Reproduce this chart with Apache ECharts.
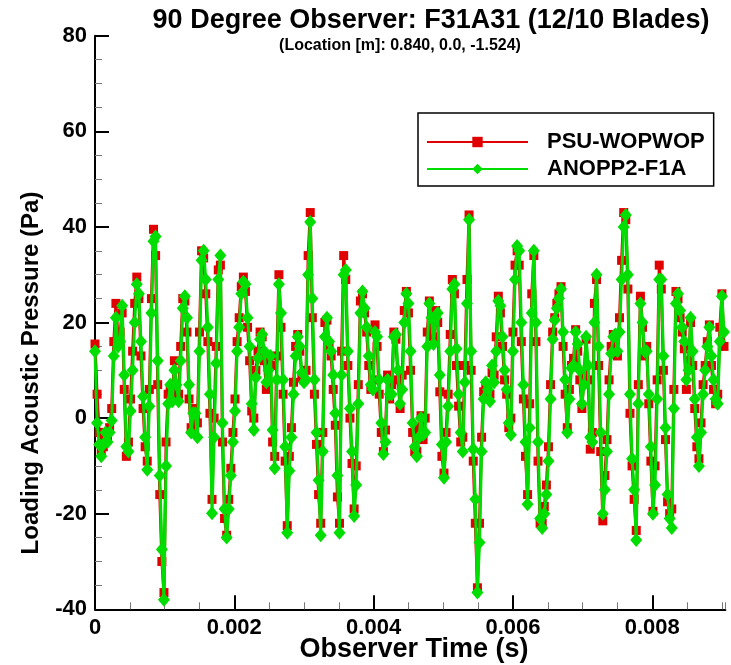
<!DOCTYPE html>
<html><head><meta charset="utf-8">
<script src="https://cdn.jsdelivr.net/npm/echarts@6/dist/echarts.min.js"></script>
<style>html,body{margin:0;padding:0;background:#fff}#c{width:731px;height:665px}</style>
</head><body><div id="c"></div>
<script>
// sampling step of the observer time history (s)
const dt = 3e-5;
const xTicks = [0, 0.002, 0.004, 0.006, 0.008];
const xMax = 0.00905;
const yMin = -40, yMax = 80, yStep = 20;
const seriesNames = ['PSU-WOPWOP', 'ANOPP2-F1A'];

const psuWopwop = [
15.5,5,-3,-7,-6,-4,-4,-2,2,16,24,17,18,22,6,-8,-5,4,14,24,
29.5,25,13,2,-6,-9,6,25,39.5,34,7,-16,-30,-36.5,-5,5,6,4.5,12,5,
5,15,25,24.5,18,4,-2,2,0,-1,18,35,33.5,26,16,1,-17,0,15,31,
32,-5,-21,-24.5,-17,-10.5,-3,4,16,21,27.5,29.5,26.5,19,12,1.5,0,10,14,18,
17,12,6,12,11,-5,-8,13,30,19,5,-9,-22.5,-8,-2,7.5,15,17.5,14,8.5,
8,10,34,43,21,5,-5.5,-16,-22,-3,20,20.5,15,13,6,-1.5,-16.5,-22,14,34,
29,11,0,-9.5,-19,-10,7,24.5,26,22,18,11,6,8,19.5,15,5,-3,-7,-2.5,
9,4,7,18,16.5,8,2,9,22.5,26.5,22,10,-3,-7,-7,-2,0.5,-4.5,0,18,
24.5,19,17,22.5,20,5.5,-8,-11.5,-3,5,17.5,29,26,11,2.5,-5,-4,11,29,42.5,
10,-9,-22,-35.5,-22,-4,5.5,7,5,5,9.5,9,17,25.5,22,15,8,5,-2,0,
18,32,35,32,16,4,-8,-16,3,26,34,16,-9,-22,-22,-18.5,-14,-6,7,18,
21,24,26,27.5,15,5,-2,6,11,12.5,18.5,14,8,2,9,16.5,8,-6.5,-3,24,
29,11,-7,-21.5,-12,-4.5,8,15,17.5,16.5,13,21,33,43,41.5,27,1,-10,-17,-23.5,
7,25.5,19,13,15,3,-9,-19.5,-10,8,32,27,10,-4.5,-17.5,-20,-19,6,26.5,25,
21,18,14.5,6,12,20,11,2,-6,-8.5,-1,7,11,16,19.5,11,6,3,5,19,
26,15
];

const anopp2 = [
14,-1,-5.5,-8,-5.5,-3,-5,-3,-0.5,13,21,15,16,23.5,9,-6,-7,1.5,10,20,
28,26,16,4.5,-4,-10.8,2.5,22,37,38,12,-12,-27.5,-38,-10,3,7,3.5,10,7,
3.5,12,23,25.5,21,7,-3,1,1,-4,14,33,35,29,19,5,-19.9,-4,11.5,29,
34,-1,-19,-25,-19,-12,-5,1.5,14,19,26,28.5,28,21,15,3,-2.5,8.5,12.5,16.5,
17.5,14,7.5,10,13,-2.5,-10.5,8,28,22,8,-6,-24,-11,-4,5,13,17,15,9.5,
7.5,8,30,41,25,8,-3,-13,-24.5,-7,17,21,16,14,9,1,-12,-24,9,30,
31,14,2,-7,-20.5,-14,3,22,26.5,23,19,13,7,6,18,17,8,-1,-7.5,-5,
8,5,5,17,17.5,10,3,6,20,26,24,14,-1,-6,-8,-4,0,-3.5,-3,15,
24,21,15.5,21,22,9,-5.5,-12.5,-5,2.5,14,27,28,14.5,5,-3,-7,7.5,24,41.5,
14,-6.5,-17,-36.5,-26,-7,4,7.5,6,3.5,11,7.5,14,24.5,23.5,17,10,6,-1,-3.5,
14,29,36,35,20,7,-5,-18,-2,22,35,20,-5,-21,-23,-20,-16,-9,4,16.5,
20.5,23,25,27,18,8,-3,4,10.5,11,18,15.5,10,3,7,17,11,-4,-5,20,
30,15,-3,-20,-15,-7,5,13.5,17,17.5,14,18,29,40,42.5,30,5,-8.5,-15,-25.5,
3,24,20,14,14,5,-6,-20,-14,4,29,29,13,-2,-16,-21,-23,2,24,26,
22.5,19,16,8,10,21,14,4,-4,-10,-3,5,10,15,19,13,8,4,3,16,
25.5,18
];

const toPairs = arr => arr.map((v, i) => [+(i * dt).toFixed(7), v]);
const FONT = '"Liberation Sans", Arial, Helvetica, sans-serif';

const chart = echarts.init(document.getElementById('c'), null, {renderer: 'canvas'});
chart.setOption({
  animation: false,
  backgroundColor: '#fff',
  grid: {left: 95, top: 35.7, width: 630.4, height: 573.6, containLabel: false},
  graphic: [
    {type: 'text', x: 431, y: 21, style: {text: '90 Degree Observer: F31A31 (12/10 Blades)', font: 'bold 27px ' + FONT, fill: '#000', align: 'center', verticalAlign: 'middle', textAlign: 'center', textVerticalAlign: 'middle'}},
    {type: 'text', x: 400, y: 46, style: {text: '(Location [m]: 0.840, 0.0, -1.524)', font: 'bold 16px ' + FONT, fill: '#000', align: 'center', verticalAlign: 'middle', textAlign: 'center', textVerticalAlign: 'middle'}},
    {type: 'text', x: 414, y: 650, style: {text: 'Observer Time (s)', font: 'bold 27px ' + FONT, fill: '#000', align: 'center', verticalAlign: 'middle', textAlign: 'center', textVerticalAlign: 'middle'}},
    {type: 'text', x: 31, y: 373, rotation: Math.PI / 2, style: {text: 'Loading Acoustic Pressure (Pa)', font: 'bold 24px ' + FONT, fill: '#000', align: 'center', verticalAlign: 'middle', textAlign: 'center', textVerticalAlign: 'middle'}}
  ],
  legend: {
    data: seriesNames,
    orient: 'vertical',
    left: 418, top: 113,
    itemWidth: 101, itemHeight: 13, itemGap: 5,
    padding: [18, 9, 6, 8],
    borderColor: '#000', borderWidth: 1.5, borderRadius: 0,
    backgroundColor: '#fff',
    selectedMode: false,
    textStyle: {fontSize: 22, fontWeight: 'bold', color: '#000', fontFamily: FONT, padding: [0, 0, 0, 14]}
  },
  xAxis: [
    {
      type: 'value', min: 0, max: xMax, interval: 0.0005, position: 'bottom',
      axisLine: {show: true, onZero: false, lineStyle: {color: '#000', width: 2}},
      axisTick: {show: true, inside: true, length: 7, lineStyle: {color: '#777', width: 1}},
      axisLabel: {show: false}, splitLine: {show: false}
    },
    {
      type: 'value', min: 0, max: xMax, interval: 0.002, position: 'bottom', offset: 0,
      axisLine: {show: false, onZero: false},
      axisTick: {show: true, inside: true, length: 14, customValues: xTicks, lineStyle: {color: '#000', width: 2}},
      axisLabel: {show: true, customValues: xTicks, margin: 8, fontSize: 22, fontWeight: 'bold', color: '#000', fontFamily: FONT,
        formatter: v => (v === 0 ? '0' : v.toFixed(3))},
      splitLine: {show: false}
    }
  ],
  yAxis: {
    type: 'value', min: yMin, max: yMax, interval: yStep,
    axisLine: {show: true, onZero: false, lineStyle: {color: '#000', width: 2}},
    axisTick: {show: true, inside: true, length: 14, lineStyle: {color: '#000', width: 2}},
    minorTick: {show: true, splitNumber: 4, length: 7, lineStyle: {color: '#777', width: 1}},
    axisLabel: {margin: 8, fontSize: 22, fontWeight: 'bold', color: '#000', fontFamily: FONT},
    splitLine: {show: false}, minorSplitLine: {show: false}
  },
  series: [
    {
      name: seriesNames[0], type: 'line', xAxisIndex: 0, data: toPairs(psuWopwop),
      symbol: 'rect', symbolSize: 9, showSymbol: true, showAllSymbol: true,
      lineStyle: {color: '#e00000', width: 3}, itemStyle: {color: '#e00000'}, z: 2
    },
    {
      name: seriesNames[1], type: 'line', xAxisIndex: 0, data: toPairs(anopp2),
      symbol: 'diamond', symbolSize: [12, 14], showSymbol: true, showAllSymbol: true,
      lineStyle: {color: '#00dd00', width: 3}, itemStyle: {color: '#00dd00'}, z: 3
    }
  ]
});
</script>
</body></html>
